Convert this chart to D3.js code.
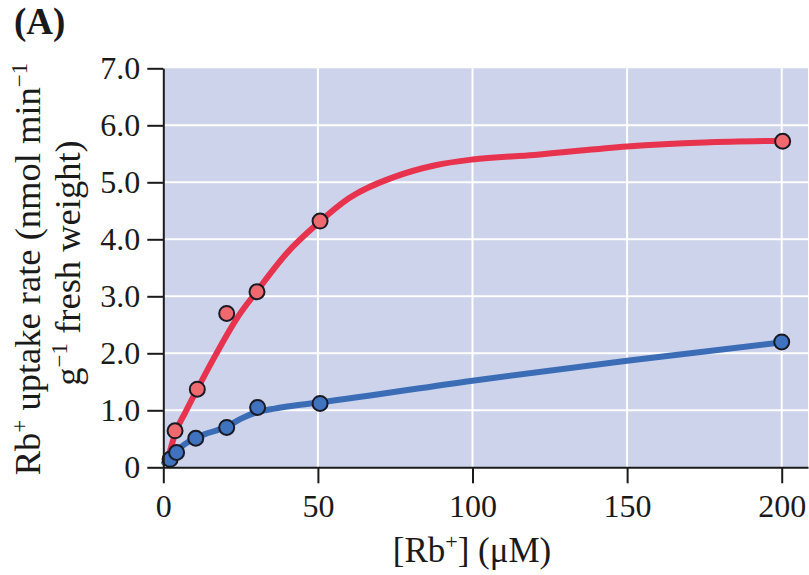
<!DOCTYPE html>
<html>
<head>
<meta charset="utf-8">
<script src="https://cdn.jsdelivr.net/npm/d3@7"></script>
<style>
  html, body { margin: 0; padding: 0; background: #ffffff; }
  svg { display: block; }
  text { font-family: "Liberation Serif", "DejaVu Serif", serif; fill: #1a1a1a; }
</style>
</head>
<body>
<svg id="chart" width="809" height="575"></svg>
<script>
// ---- data ----
const xTicks = [0, 50, 100, 150, 200];
const yTicks = [0, 1, 2, 3, 4, 5, 6, 7];
const yTickLabels = ["0", "1.0", "2.0", "3.0", "4.0", "5.0", "6.0", "7.0"];

// measured points
const redX = [3.8, 11.0, 20.5, 30.3, 50.7, 200.3];
const redY = [0.64, 1.37, 2.70, 3.08, 4.32, 5.72];
const blueX = [2.2, 4.3, 10.5, 20.5, 30.5, 50.7, 200];
const blueY = [0.14, 0.26, 0.51, 0.70, 1.05, 1.12, 2.20];

// fitted curves
const redCurveX = [2, 4, 7, 11, 16, 20, 24, 30, 40, 50, 60, 75, 88, 100, 120, 150, 175, 200];
const redCurveY = [0.25, 0.62, 0.95, 1.37, 1.88, 2.27, 2.63, 3.07, 3.76, 4.28, 4.72, 5.10, 5.30, 5.40, 5.48, 5.63, 5.70, 5.73];
const blueCurveX = [0.3, 2, 4, 10.5, 15, 20.5, 25, 30.5, 36, 42, 51, 100, 150, 200];
const blueCurveY = [0.08, 0.15, 0.27, 0.52, 0.61, 0.71, 0.85, 0.97, 1.03, 1.08, 1.14, 1.52, 1.87, 2.19];

(function () {
// ---- layout ----
const svg = d3.select("#chart");
const pL = 163.3, pR = 808, pT = 68.3, pB = 467.3;
const x = d3.scaleLinear().domain([0, 208.5]).range([pL, pR]);
const y = d3.scaleLinear().domain([0, 7]).range([pB, pT]);

// background
svg.append("rect")
  .attr("x", pL).attr("y", pT)
  .attr("width", pR - pL).attr("height", pB - pT)
  .attr("fill", "#cdd3ea");

// grid
svg.append("g").selectAll("line").data(xTicks.filter(d => d > 0)).join("line")
  .attr("x1", d => x(d)).attr("x2", d => x(d))
  .attr("y1", pT).attr("y2", pB)
  .attr("stroke", "#ffffff").attr("stroke-width", 2);
svg.append("g").selectAll("line").data(yTicks.filter(d => d > 0 && d < 7)).join("line")
  .attr("x1", pL).attr("x2", pR)
  .attr("y1", d => y(d)).attr("y2", d => y(d))
  .attr("stroke", "#ffffff").attr("stroke-width", 2);

// curves
const line = d3.line().x(d => x(d[0])).y(d => y(d[1])).curve(d3.curveMonotoneX);
svg.append("path")
  .attr("d", line(d3.zip(redCurveX, redCurveY)))
  .attr("fill", "none").attr("stroke", "#e8334e").attr("stroke-width", 6)
  .attr("stroke-linecap", "round").attr("stroke-linejoin", "round");
svg.append("path")
  .attr("d", line(d3.zip(blueCurveX, blueCurveY)))
  .attr("fill", "none").attr("stroke", "#3b6db6").attr("stroke-width", 6)
  .attr("stroke-linecap", "round").attr("stroke-linejoin", "round");

// points
svg.append("g").selectAll("circle").data(d3.zip(redX, redY)).join("circle")
  .attr("cx", d => x(d[0])).attr("cy", d => y(d[1])).attr("r", 7.5)
  .attr("fill", "#ef6a6e").attr("stroke", "#1a1a24").attr("stroke-width", 2);
svg.append("g").selectAll("circle").data(d3.zip(blueX, blueY)).join("circle")
  .attr("cx", d => x(d[0])).attr("cy", d => y(d[1])).attr("r", 7.5)
  .attr("fill", "#3f72bf").attr("stroke", "#1a1a24").attr("stroke-width", 2);

// axes
const yAxis = d3.axisLeft(y).tickValues(yTicks)
  .tickFormat((d, i) => yTickLabels[i]).tickSize(16).tickSizeOuter(0).tickPadding(7);
const gy = svg.append("g").attr("transform", `translate(${pL},0)`).call(yAxis);
const xAxis = d3.axisBottom(x).tickValues(xTicks)
  .tickFormat(d3.format("d")).tickSize(16).tickSizeOuter(0).tickPadding(11);
const gx = svg.append("g").attr("transform", `translate(0,${pB})`).call(xAxis);

[gx, gy].forEach(g => {
  g.select(".domain").attr("stroke", "#1a1a1a").attr("stroke-width", 2);
  g.selectAll(".tick line").attr("stroke", "#1a1a1a").attr("stroke-width", 2);
  g.selectAll(".tick text")
    .attr("font-family", "'Liberation Serif', 'DejaVu Serif', serif")
    .attr("font-size", 32).attr("fill", "#1a1a1a");
});

// title
svg.append("text").attr("x", 14).attr("y", 34)
  .attr("font-size", 37).attr("font-weight", "bold").text("(A)");

// x label
const xl = svg.append("text").attr("x", 472).attr("y", 562)
  .attr("text-anchor", "middle").attr("font-size", 35);
xl.append("tspan").text("[Rb");
xl.append("tspan").attr("dy", -13).attr("font-size", 22).text("+");
xl.append("tspan").attr("dy", 13).text("] (μM)");

// y label
const l1 = svg.append("text").attr("transform", "translate(40,269) rotate(-90)")
  .attr("text-anchor", "middle").attr("font-size", 36.5);
l1.append("tspan").text("Rb");
l1.append("tspan").attr("dy", -13).attr("font-size", 23).text("+");
l1.append("tspan").attr("dy", 13).text(" uptake rate (nmol min");
l1.append("tspan").attr("dy", -13).attr("font-size", 23).text("−1");
const l2 = svg.append("text").attr("transform", "translate(80,263) rotate(-90)")
  .attr("text-anchor", "middle").attr("font-size", 36.5);
l2.append("tspan").text("g");
l2.append("tspan").attr("dy", -13).attr("font-size", 23).text("−1");
l2.append("tspan").attr("dy", 13).text(" fresh weight)");
})();
</script>
</body>
</html>
